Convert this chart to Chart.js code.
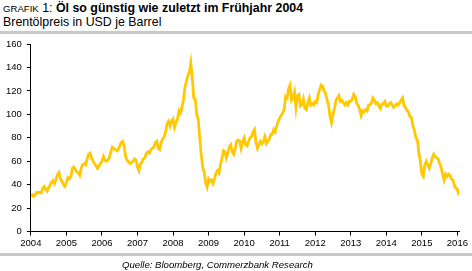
<!DOCTYPE html>
<html>
<head>
<meta charset="utf-8">
<script src="https://cdn.jsdelivr.net/npm/chart.js@4"></script>
<style>
  body { margin:0; background:#fff; font-family:"Liberation Sans", Arial, sans-serif; }
  #wrap { position:relative; width:472px; height:271px; overflow:hidden; }
  #myChart { position:absolute; left:0; top:0; }
  .txt { position:absolute; white-space:nowrap; color:#000; }
  .bar { position:absolute; left:0; width:472px; height:3px; background:#c8c8c8; }
</style>
</head>
<body>
<div id="wrap">
  <div class="txt" style="left:3px;top:1px;font-size:12.4px;line-height:14px;"><span style="font-size:9.6px;">GRAFIK</span> 1: <b>Öl so günstig wie zuletzt im Frühjahr 2004</b></div>
  <div class="txt" style="left:3px;top:15px;font-size:12.4px;line-height:14px;">Brentölpreis in USD je Barrel</div>
  <div class="bar" style="top:31px;"></div>
  <canvas id="myChart" width="472" height="271"></canvas>
  <div class="bar" style="top:253px;"></div>
  <div class="txt" style="left:122px;top:259px;font-size:9.6px;line-height:12px;font-style:italic;">Quelle: Bloomberg, Commerzbank Research</div>
</div>
<script>
// Brent, USD je Barrel, halbmonatlich ab Jan 2004
const startYear = 2004;
const pointsPerYear = 24;
const prices = [
  30.5,31.5, 30,31.5, 33.5,33, 33.5,33, 37,38.5, 36,34.5, 37.5,39.5, 42,43.5, 41,44.5, 49,50.5, 45,43, 40,38.5, // 2004
  42,46, 45,47, 54,55, 53,51, 50,48, 54,57, 58,57, 62,66, 67,63, 60,58, 56,54, 56,58,                             // 2005
  60,64, 61,60, 61,63, 68,72, 71,70, 69,70, 73,76, 77,73, 64,61, 59,58, 59,60, 62,61,                             // 2006
  55,52, 58,59, 62,63, 67,68, 67,70, 71,72, 76,77, 71,70, 76,79, 81,85, 92,94, 90,94,                             // 2007
  96,89, 93,96, 103,101, 106,112, 123,128, 133,136, 144,131, 114,113, 100,96, 80,66, 55,51, 42,38,                // 2008
  45,43, 44,41, 45,50, 52,50, 57,62, 69,68, 63,67, 72,74, 68,66, 71,77, 78,77, 71,77,                             // 2009
  80,74, 73,77, 80,81, 85,87, 76,71, 74,77, 75,77, 81,75, 77,79, 83,83, 87,85, 90,94,                             // 2010
  97,99, 101,104, 115,114, 122,125, 112,114, 119,106, 116,117, 107,108, 113,105, 104,110, 114,108, 109,108,       // 2011
  111,110, 117,121, 125,124, 120,118, 112,108, 98,93, 100,105, 112,114, 116,111, 112,110, 108,110, 108,111,       // 2012
  111,113, 117,115, 109,108, 104,99, 103,102, 104,103, 108,108, 110,114, 112,109, 110,107, 105,109, 109,111,      // 2013
  107,107, 109,110, 108,106, 107,109, 108,110, 112,114, 107,106, 103,102, 98,97, 90,86, 80,78, 67,60,             // 2014
  49,47, 57,60, 57,54, 58,63, 66,64, 63,62, 58,55, 49,44, 49,47, 49,48, 45,44, 39,37,                             // 2015
  36,31                                                                                                            // Jan 2016
];
const yearTicks = [2004,2005,2006,2007,2008,2009,2010,2011,2012,2013,2014,2015,2016];
const yTicks = [0,20,40,60,80,100,120,140,160];

const points = prices.map((p, i) => ({ x: startYear + i / pointsPerYear, y: p }));

Chart.defaults.font.family = '"Liberation Sans", Arial, sans-serif';
Chart.defaults.font.size = 9.5;
Chart.defaults.color = '#000';

const ctx = document.getElementById('myChart').getContext('2d');
const brentChart = new Chart(ctx, {
  type: 'line',
  data: {
    datasets: [{
      label: 'Brent',
      data: points,
      borderColor: '#FFC800',
      borderWidth: 2.8,
      pointRadius: 0,
      tension: 0,
      fill: false
    }]
  },
  options: {
    responsive: false,
    animation: false,
    layout: { padding: { left: 1, right: 13, top: 44, bottom: 20 } },
    scales: {
      x: {
        type: 'linear',
        min: 2004,
        max: 2016.045,
        afterBuildTicks: function(scale) { scale.ticks = yearTicks.map(v => ({ value: v })); },
        ticks: { padding: 2, maxRotation: 0, autoSkip: false, callback: v => String(v) },
        grid: { drawOnChartArea: false, drawTicks: true, tickLength: 4, color: '#000' },
        border: { display: true, color: '#000', width: 1 }
      },
      y: {
        min: 0,
        max: 160,
        afterBuildTicks: function(scale) { scale.ticks = yTicks.map(v => ({ value: v })); },
        ticks: { padding: 5, callback: v => String(v) },
        grid: { drawOnChartArea: false, drawTicks: true, tickLength: 4, color: '#000' },
        border: { display: true, color: '#000', width: 1 }
      }
    },
    plugins: {
      legend: { display: false },
      tooltip: { enabled: false }
    }
  }
});
</script>
</body>
</html>
